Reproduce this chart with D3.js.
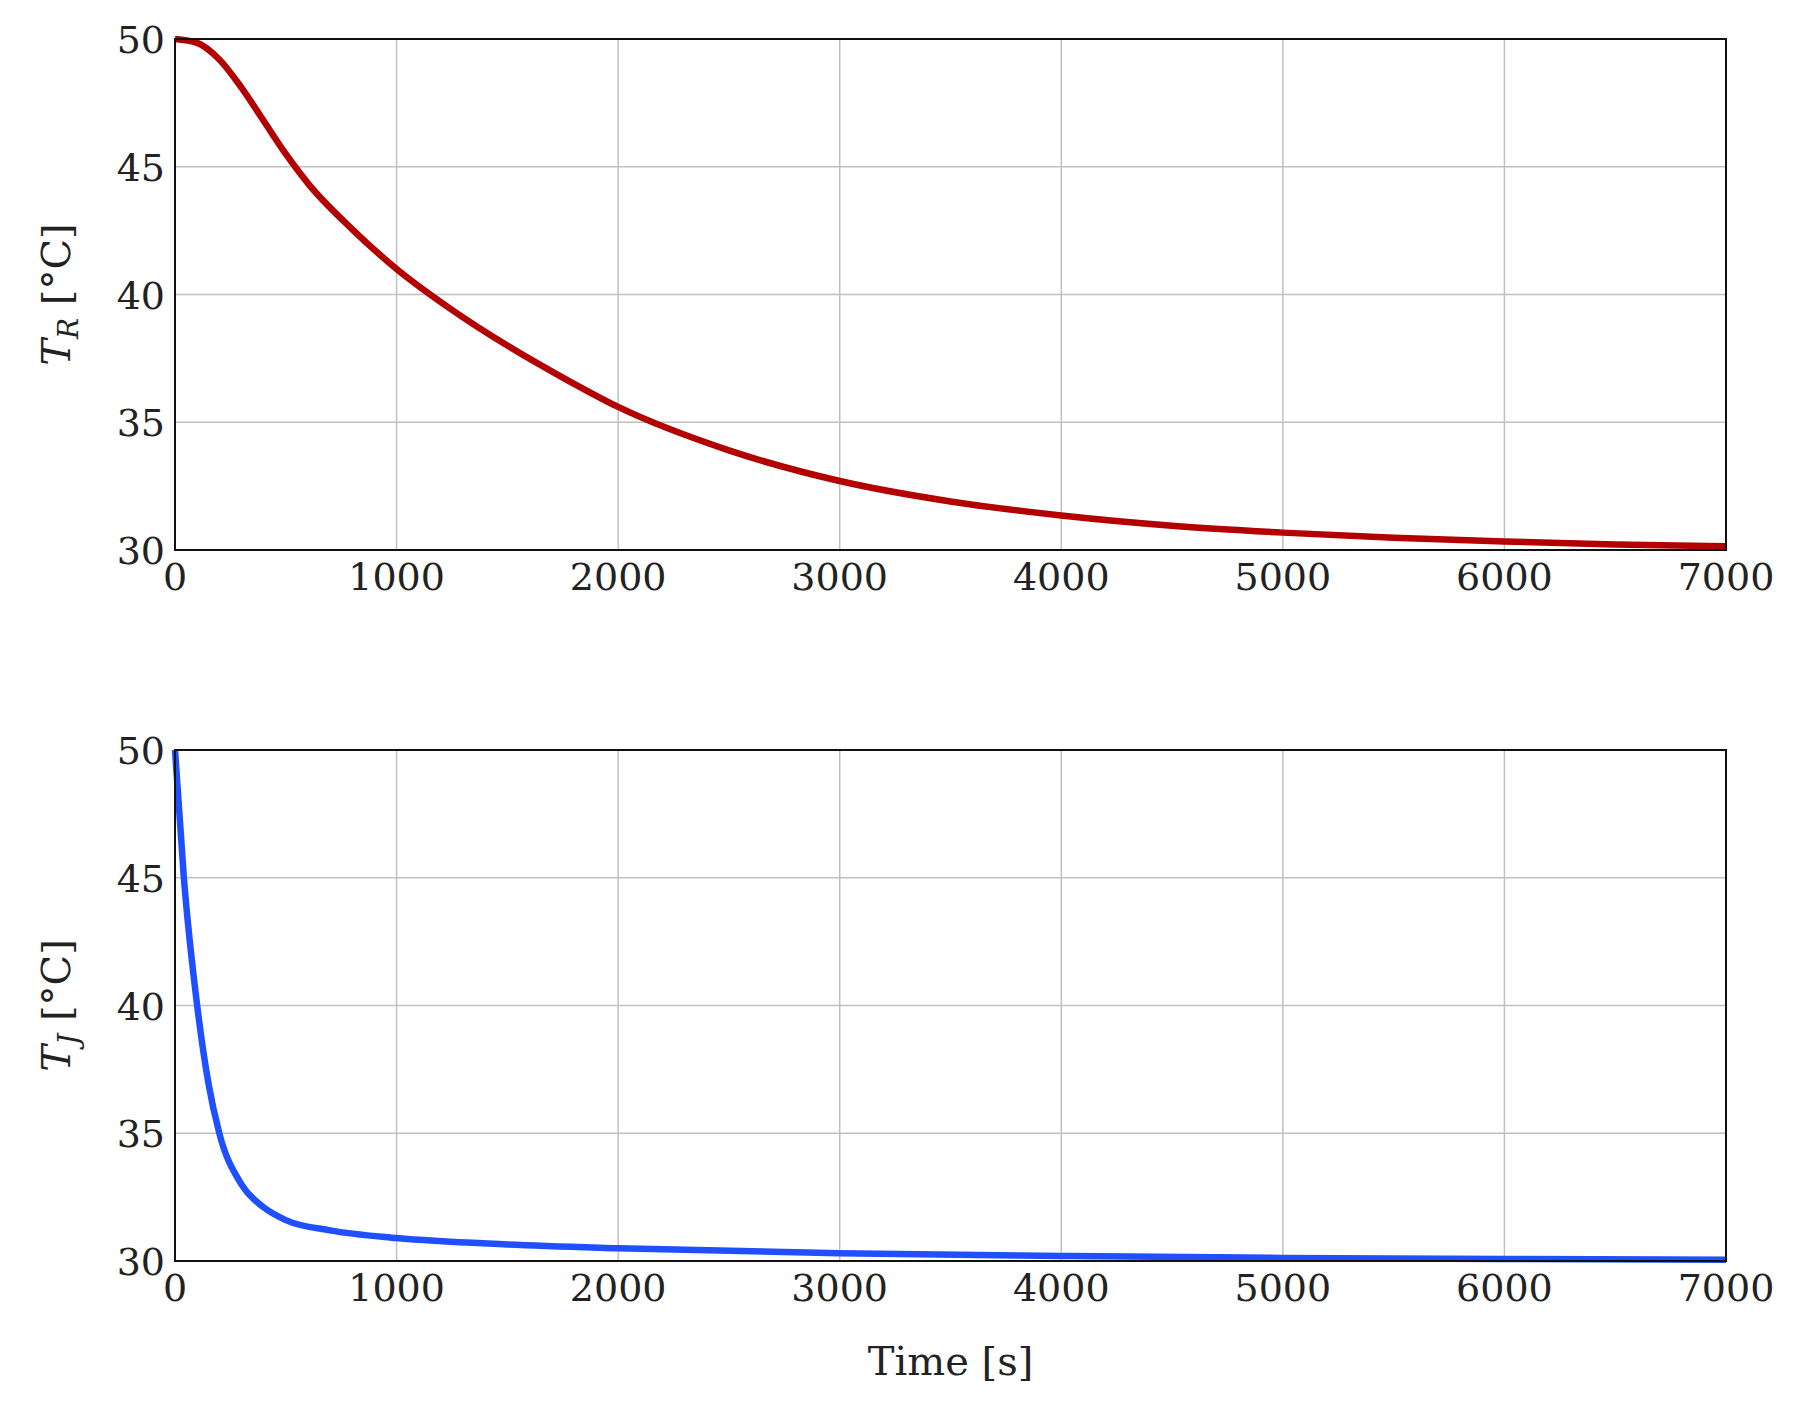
<!DOCTYPE html>
<html><head><meta charset="utf-8">
<script src="https://cdn.jsdelivr.net/npm/d3@7"></script>
<style>body{margin:0;background:#fff}</style>
</head><body><div id="canvas"></div>
<script>
"use strict"

let svgWidth = 1809, svgHeight = 1413;
let left = 175, right = 1726;

let timeTR = [0, 100, 200, 300, 400, 500, 600, 800, 1000, 1250, 1500, 1750, 2000, 2500, 3000, 3500, 4000, 4500, 5000, 5500, 6000, 6500, 7000];
let valuesTR = [50, 49.85, 49.2, 48.1, 46.8, 45.5, 44.35, 42.55, 41.0, 39.4, 38.0, 36.75, 35.6, 33.9, 32.7, 31.9, 31.35, 30.95, 30.68, 30.48, 30.33, 30.22, 30.15];

let timeTJ = [0, 40, 100, 150, 200, 300, 400, 500, 700, 1000, 1500, 2000, 3000, 4000, 5000, 6000, 7000];
let valuesTJ = [50, 45, 40, 37, 35, 33, 32.1, 31.6, 31.2, 30.9, 30.65, 30.5, 30.3, 30.2, 30.12, 30.08, 30.05];

let xTicks = [0, 1000, 2000, 3000, 4000, 5000, 6000, 7000];
let yTicks = [30, 35, 40, 45, 50];

let svg = d3.select("#canvas").append("svg")
    .attr("width", svgWidth).attr("height", svgHeight)
    .attr("font-family", "'DejaVu Serif', 'Liberation Serif', serif");

let xScale = d3.scaleLinear().domain([0, 7000]).range([left, right]);

function panel(top, bottom, times, values, color, sub) {
    let yScale = d3.scaleLinear().domain([30, 50]).range([bottom, top]);
    let g = svg.append("g");
    // grid
    g.selectAll(".gx").data(xTicks.slice(1, -1)).join("line")
        .attr("x1", d => xScale(d)).attr("x2", d => xScale(d))
        .attr("y1", top).attr("y2", bottom)
        .attr("stroke", "#c0c0c0").attr("stroke-width", 1.5);
    g.selectAll(".gy").data(yTicks.slice(1, -1)).join("line")
        .attr("y1", d => yScale(d)).attr("y2", d => yScale(d))
        .attr("x1", left).attr("x2", right)
        .attr("stroke", "#c0c0c0").attr("stroke-width", 1.5);
    // curve
    let line = d3.line().x((d, i) => xScale(times[i])).y(d => yScale(d)).curve(d3.curveMonotoneX);
    g.append("path").datum(values).attr("d", line)
        .attr("fill", "none").attr("stroke", color).attr("stroke-width", 6.5);
    // frame
    g.append("rect").attr("x", left).attr("y", top)
        .attr("width", right - left).attr("height", bottom - top)
        .attr("fill", "none").attr("stroke", "#111").attr("stroke-width", 2);
    // tick labels
    g.selectAll(".tx").data(xTicks).join("text")
        .attr("x", d => xScale(d)).attr("y", bottom + 40)
        .attr("text-anchor", "middle").attr("fill", "#222").style("font-size", "38px").text(d => d);
    g.selectAll(".ty").data(yTicks).join("text")
        .attr("x", left - 10).attr("y", d => yScale(d) + 14)
        .attr("text-anchor", "end").attr("fill", "#222").style("font-size", "38px").text(d => d);
    // y label
    let lbl = g.append("text")
        .attr("transform", "translate(70," + ((top + bottom) / 2) + ") rotate(-90)")
        .attr("text-anchor", "middle").attr("fill", "#222").style("font-size", "40px");
    lbl.append("tspan").style("font-style", "italic").text("T");
    lbl.append("tspan").style("font-style", "italic").style("font-size", "28px").attr("dy", 8).text(sub);
    lbl.append("tspan").attr("dy", -8).text(" [°C]");
}

panel(39, 550, timeTR, valuesTR, "#b30000", "R");
panel(750, 1261, timeTJ, valuesTJ, "#1f4fff", "J");

svg.append("text").attr("x", (left + right) / 2).attr("y", 1375)
    .attr("text-anchor", "middle").attr("fill", "#222").style("font-size", "40px").text("Time [s]");
</script></body></html>
